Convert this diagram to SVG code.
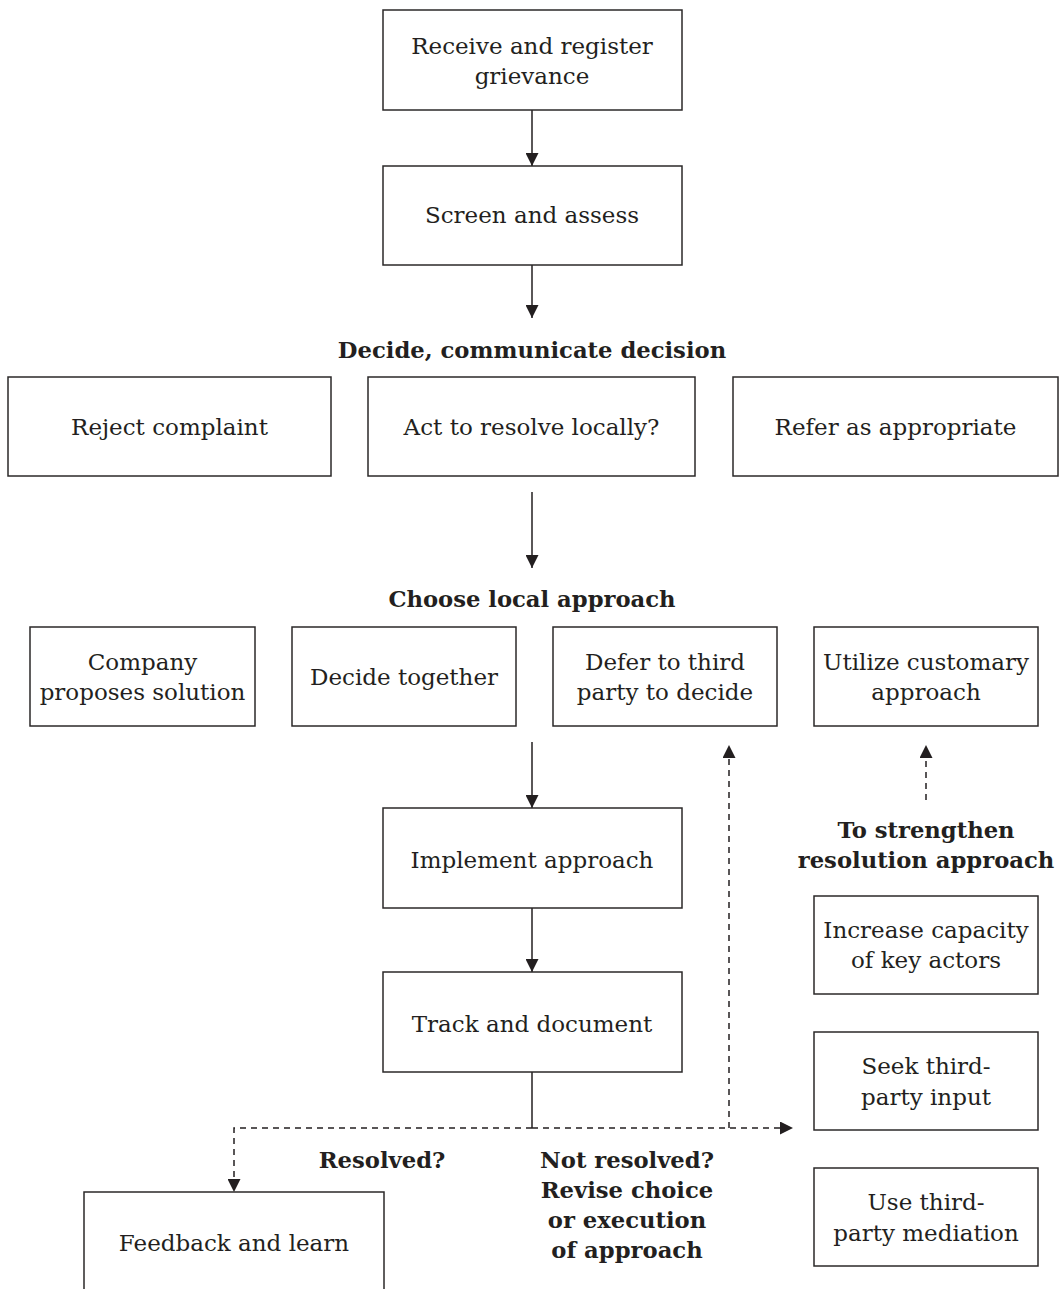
<svg xmlns="http://www.w3.org/2000/svg" width="1060" height="1289" viewBox="0 0 1060 1289">
  <style>
    .box { fill: #ffffff; stroke: #2b2829; stroke-width: 1.5; }
    .t { font-family: "DejaVu Serif", "Liberation Serif", serif; font-size: 23px; fill: #231f20; text-anchor: middle; }
    .h { font-family: "DejaVu Serif", "Liberation Serif", serif; font-size: 22.7px; font-weight: bold; fill: #231f20; text-anchor: middle; }
    .solid { fill: none; stroke: #231f20; stroke-width: 1.5; }
    .dash { fill: none; stroke: #231f20; stroke-width: 1.5; stroke-dasharray: 6 5; }
  </style>
  <defs>
    <marker id="arrow" viewBox="0 0 13 13" refX="13" refY="6.5" markerWidth="13" markerHeight="13" markerUnits="userSpaceOnUse" orient="auto">
      <path d="M0,0 L13,6.5 L0,13 Z" fill="#231f20"/>
    </marker>
  </defs>
  <rect width="1060" height="1289" fill="#ffffff"/>

  <!-- connectors -->
  <g id="connectors">
    <line class="solid" x1="532" y1="110" x2="532" y2="166" marker-end="url(#arrow)"/>
    <line class="solid" x1="532" y1="265" x2="532" y2="318" marker-end="url(#arrow)"/>
    <line class="solid" x1="532" y1="492" x2="532" y2="568" marker-end="url(#arrow)"/>
    <line class="solid" x1="532" y1="742" x2="532" y2="808" marker-end="url(#arrow)"/>
    <line class="solid" x1="532" y1="908" x2="532" y2="972" marker-end="url(#arrow)"/>
    <line class="solid" x1="532" y1="1072" x2="532" y2="1128"/>
    <!-- outcome branches -->
    <path class="dash" d="M532,1128 H234 V1192" marker-end="url(#arrow)"/>
    <path class="dash" d="M532,1128 H793" marker-end="url(#arrow)"/>
    <path class="dash" d="M729,1128 V745" marker-end="url(#arrow)"/>
    <path class="dash" d="M926,800 V745" marker-end="url(#arrow)"/>
  </g>

  <!-- headings -->
  <g id="headings">
    <text class="h" x="532" y="358">Decide, communicate decision</text>
    <text class="h" x="532" y="607">Choose local approach</text>
    <text class="h" x="926" y="838">To strengthen</text>
    <text class="h" x="926" y="868">resolution approach</text>
    <text class="h" x="382" y="1168">Resolved?</text>
    <text class="h" x="627" y="1168">Not resolved?</text>
    <text class="h" x="627" y="1198">Revise choice</text>
    <text class="h" x="627" y="1228">or execution</text>
    <text class="h" x="627" y="1258">of approach</text>
  </g>

  <g id="receive">
    <rect class="box" x="383" y="10" width="299" height="100"/>
    <text class="t" x="532" y="54">Receive and register</text>
    <text class="t" x="532" y="84">grievance</text>
  </g>
  <g id="screen">
    <rect class="box" x="383" y="166" width="299" height="99"/>
    <text class="t" x="532" y="223">Screen and assess</text>
  </g>

  <g id="reject">
    <rect class="box" x="8" y="377" width="323" height="99"/>
    <text class="t" x="169.5" y="435">Reject complaint</text>
  </g>
  <g id="act-locally">
    <rect class="box" x="368" y="377" width="327" height="99"/>
    <text class="t" x="531.5" y="435">Act to resolve locally?</text>
  </g>
  <g id="refer">
    <rect class="box" x="733" y="377" width="325" height="99"/>
    <text class="t" x="895.5" y="435">Refer as appropriate</text>
  </g>

  <g id="company-proposes">
    <rect class="box" x="30" y="627" width="225" height="99"/>
    <text class="t" x="142.5" y="670">Company</text>
    <text class="t" x="142.5" y="700">proposes solution</text>
  </g>
  <g id="decide-together">
    <rect class="box" x="292" y="627" width="224" height="99"/>
    <text class="t" x="404" y="685">Decide together</text>
  </g>
  <g id="defer-third-party">
    <rect class="box" x="553" y="627" width="224" height="99"/>
    <text class="t" x="665" y="670">Defer to third</text>
    <text class="t" x="665" y="700">party to decide</text>
  </g>
  <g id="customary">
    <rect class="box" x="814" y="627" width="224" height="99"/>
    <text class="t" x="926" y="670">Utilize customary</text>
    <text class="t" x="926" y="700">approach</text>
  </g>

  <g id="implement">
    <rect class="box" x="383" y="808" width="299" height="100"/>
    <text class="t" x="532" y="868">Implement approach</text>
  </g>
  <g id="track">
    <rect class="box" x="383" y="972" width="299" height="100"/>
    <text class="t" x="532" y="1032">Track and document</text>
  </g>

  <g id="increase-capacity">
    <rect class="box" x="814" y="896" width="224" height="98"/>
    <text class="t" x="926" y="938">Increase capacity</text>
    <text class="t" x="926" y="968">of key actors</text>
  </g>
  <g id="seek-input">
    <rect class="box" x="814" y="1032" width="224" height="98"/>
    <text class="t" x="926" y="1074">Seek third-</text>
    <text class="t" x="926" y="1105">party input</text>
  </g>
  <g id="mediation">
    <rect class="box" x="814" y="1168" width="224" height="98"/>
    <text class="t" x="926" y="1210">Use third-</text>
    <text class="t" x="926" y="1241">party mediation</text>
  </g>

  <g id="feedback">
    <rect class="box" x="84" y="1192" width="300" height="110"/>
    <text class="t" x="234" y="1251">Feedback and learn</text>
  </g>
</svg>
